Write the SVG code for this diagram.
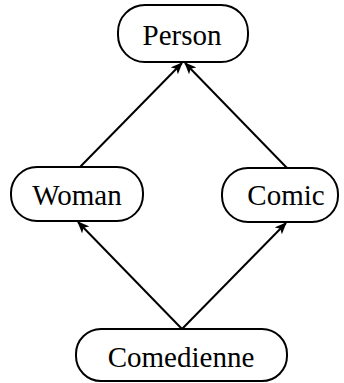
<svg xmlns="http://www.w3.org/2000/svg" width="344" height="383" viewBox="0 0 344 383">
  <style>
    .box { fill: #fff; stroke: #000; stroke-width: 2; }
    .lbl { font-family: "Liberation Serif", "DejaVu Serif", serif; font-size: 29px; fill: #000; text-anchor: middle; }
    .edge { stroke: #000; stroke-width: 2; fill: none; marker-end: url(#arrow); }
  </style>
  <defs>
    <marker id="arrow" viewBox="0 0 12 10" refX="11" refY="5" markerWidth="12" markerHeight="10" markerUnits="userSpaceOnUse" orient="auto">
      <path d="M0,0 L12,5 L0,10 L3,5 Z" fill="#000"/>
    </marker>
  </defs>
  <rect width="344" height="383" fill="#fff"/>
  <g id="edges">
    <line class="edge" x1="80" y1="167" x2="182" y2="63"/>
    <line class="edge" x1="287" y1="168" x2="185" y2="63"/>
    <line class="edge" x1="182" y1="329" x2="78" y2="222"/>
    <line class="edge" x1="182" y1="329" x2="286" y2="223"/>
  </g>
  <g id="person">
    <rect class="box" x="118" y="5" width="130" height="57" rx="27"/>
    <text class="lbl" x="182" y="45">Person</text>
  </g>
  <g id="woman">
    <rect class="box" x="11" y="167" width="132" height="54" rx="26"/>
    <text class="lbl" x="77" y="205">Woman</text>
  </g>
  <g id="comic">
    <rect class="box" x="222" y="168" width="116" height="54" rx="26"/>
    <text class="lbl" x="286" y="205">Comic</text>
  </g>
  <g id="comedienne">
    <rect class="box" x="76" y="329" width="211" height="52" rx="25"/>
    <text class="lbl" x="181" y="367">Comedienne</text>
  </g>
</svg>
